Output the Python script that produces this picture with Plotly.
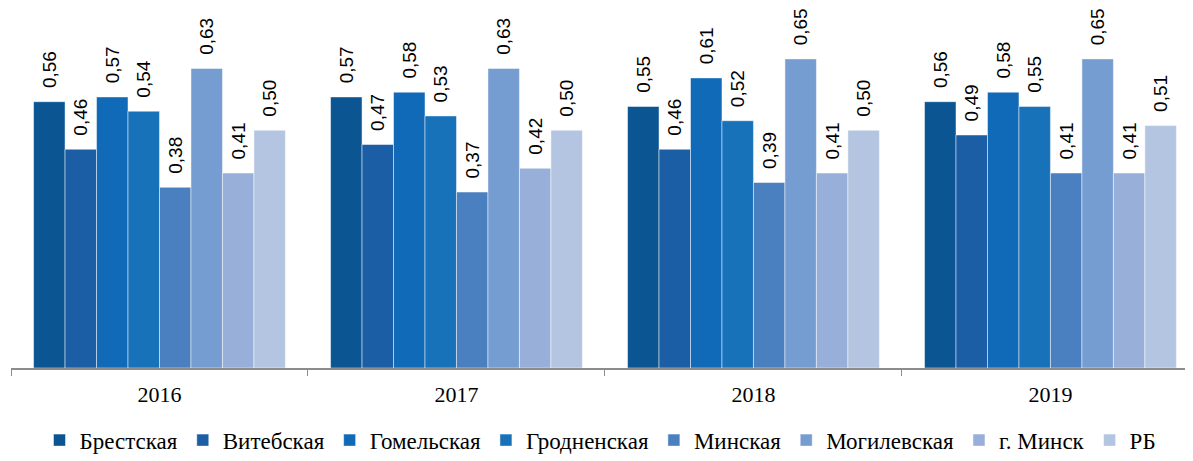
import plotly.graph_objects as go

years = ["2016", "2017", "2018", "2019"]
regions = ["Брестская", "Витебская", "Гомельская", "Гродненская",
           "Минская", "Могилевская", "г. Минск", "РБ"]
values = {
    "Брестская":   [0.56, 0.57, 0.55, 0.56],
    "Витебская":   [0.46, 0.47, 0.46, 0.49],
    "Гомельская":  [0.57, 0.58, 0.61, 0.58],
    "Гродненская": [0.54, 0.53, 0.52, 0.55],
    "Минская":     [0.38, 0.37, 0.39, 0.41],
    "Могилевская": [0.63, 0.63, 0.65, 0.65],
    "г. Минск":    [0.41, 0.42, 0.41, 0.41],
    "РБ":          [0.50, 0.50, 0.50, 0.51],
}
colors = ["#0b5592", "#1b5ea5", "#106ab8", "#1872ba",
          "#4a80c0", "#769dd1", "#98b0d9", "#b3c5e1"]

SERIF = "'Liberation Serif', 'Times New Roman', Times, serif"
SANS = "'Liberation Sans', Arial, sans-serif"

fig = go.Figure()
for name, col in zip(regions, colors):
    v = values[name]
    fig.add_trace(go.Bar(
        x=years, y=v, name=name,
        marker=dict(color=col, line=dict(color="rgba(255,255,255,0.6)", width=0.8)),
        text=["\u00a0\u00a0" + f"{x:.2f}".replace(".", ",") for x in v],
        textposition="outside", textangle=-90, constraintext="none",
        textfont=dict(family=SANS, size=19, color="#000"),
        cliponaxis=False,
    ))

# page body has an 8px margin, so the figure is sized to fit the window
fig.update_layout(
    width=1185, height=453,
    barmode="group", bargap=0.152, bargroupgap=0,
    plot_bgcolor="white", paper_bgcolor="white",
    margin=dict(l=3, r=0, t=0, b=93, autoexpand=False),
    showlegend=True,
    legend=dict(orientation="h", x=0.5, xanchor="center", xref="container",
                y=0.046, yanchor="middle", yref="container",
                font=dict(family=SERIF, size=23, color="#000"),
                itemwidth=30, traceorder="normal", tracegroupgap=0),
)
fig.update_xaxes(
    type="category", range=[-0.5, 3.48],
    showline=True, linecolor="#8c8c8c", linewidth=1.5,
    ticks="outside", tickson="boundaries", ticklen=6, tickcolor="#8c8c8c",
    ticklabelstandoff=6,
    tickfont=dict(family=SERIF, size=22, color="#000"),
    showgrid=False,
)
fig.update_yaxes(range=[0, 0.757], visible=False, showgrid=False)

fig.write_html("out.html")
